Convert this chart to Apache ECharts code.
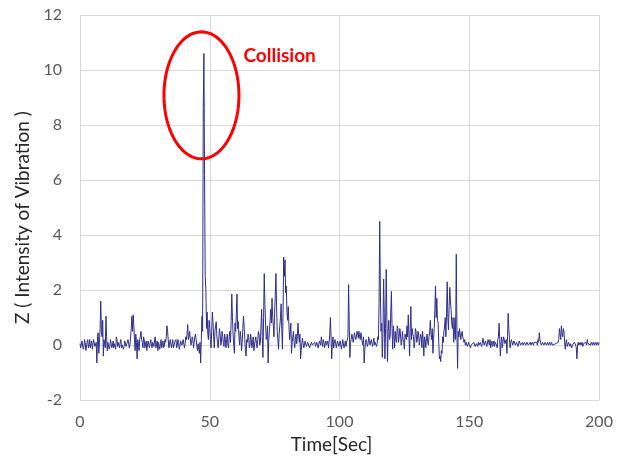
<!DOCTYPE html>
<html>
<head>
<meta charset="utf-8">
<script src="https://cdn.jsdelivr.net/npm/echarts@6/dist/echarts.min.js"></script>
<style>html,body{margin:0;padding:0;background:#fff}#c{width:625px;height:459px}</style>
</head>
<body>
<div id="c"></div>
<script>
// sampling of the vibration record
const timeStart = 0;
const timeStep = 0.5;      // main samples every 0.5 s
const midOffset = 0.25;    // intermediate samples between them
// Z values at 0, 0.5, 1.0 ... 200 s
const zValues = [
  0.05,-0.1,0.15,-0.05,0.1,-0.15,0.2,0.0,-0.1,0.15,0.05,0.25,-0.1,-0.65,0.45,0.1,1.6,0.3,-0.4,0.2,
  1.05,-0.2,0.1,-0.05,0.15,0.0,-0.1,0.1,0.3,-0.05,0.05,0.1,-0.1,0.05,-0.05,0.1,0.0,0.2,-0.1,0.3,
  1.05,1.1,0.2,0.4,-0.5,0.1,0.2,0.5,0.1,0.3,-0.1,0.15,0.0,0.2,-0.15,0.05,0.1,-0.05,0.3,0.0,
  -0.2,0.1,0.05,-0.1,0.15,0.0,0.1,0.7,0.2,-0.05,0.15,0.05,-0.1,0.1,0.2,0.0,0.1,-0.05,0.1,0.05,
  0.15,0.05,0.2,0.75,0.3,0.45,0.1,0.2,0.1,0.4,0.15,0.05,-0.3,-0.65,1.05,8.6,6.2,2.0,1.2,0.2,
  0.6,-0.1,1.2,0.3,0.5,0.85,0.1,-0.1,0.4,0.1,0.3,-0.05,0.2,0.2,0.0,0.3,0.1,1.85,0.4,-0.3,
  0.5,1.85,0.85,0.0,0.3,0.1,1.05,0.2,-0.4,0.1,0.3,0.0,0.2,0.1,-0.2,0.15,0.05,0.2,0.4,0.1,
  1.3,-0.45,2.6,0.8,0.3,-0.65,0.5,1.3,1.7,0.7,1.2,2.6,0.5,-0.15,0.7,1.5,-0.15,3.2,3.1,2.15,
  0.9,0.75,0.4,-0.3,0.3,0.1,0.2,0.05,0.8,0.1,-0.5,0.1,0.05,-0.05,0.1,0.0,0.05,-0.1,0.05,0.0,
  0.0,0.1,-0.05,0.05,0.0,0.1,0.3,-0.05,0.1,0.05,0.0,0.15,0.1,1.0,-0.5,0.3,0.05,0.1,-0.05,0.1,
  0.05,0.1,-0.1,0.15,0.0,-0.05,0.1,2.2,-0.45,0.2,0.3,0.25,0.4,0.3,0.4,0.5,0.2,0.3,0.0,-0.65,
  0.1,0.25,0.05,0.15,-0.05,0.2,0.1,0.0,0.15,0.05,0.2,4.5,0.5,-0.45,2.4,-0.5,2.75,-0.6,0.9,0.3,
  1.95,-0.15,0.4,0.5,0.1,0.6,0.3,0.4,0.1,0.2,-0.15,0.3,0.7,1.1,-0.4,1.4,0.6,0.3,0.1,0.5,
  0.2,0.4,0.0,0.3,0.5,-0.4,0.2,0.25,0.1,0.3,0.9,0.2,-0.3,0.6,2.15,1.7,0.8,-0.5,-0.6,-0.3,
  0.1,0.7,0.3,2.3,0.55,2.1,1.3,0.6,0.1,1.0,3.3,-0.85,0.3,0.65,0.4,0.3,0.1,0.0,0.05,-0.05,
  0.0,-0.1,0.05,-0.05,0.1,0.0,0.05,0.1,-0.05,0.15,0.05,0.2,0.0,0.1,-0.1,0.1,0.2,0.05,-0.05,0.15,
  0.1,0.0,0.2,0.8,-0.4,0.3,0.1,0.2,0.0,-0.3,1.15,0.2,0.1,0.25,0.05,0.1,0.0,0.15,0.05,0.1,
  0.0,0.1,0.05,0.15,0.05,0.1,0.0,0.1,0.05,0.15,0.1,0.05,0.1,0.2,0.45,0.1,0.05,0.1,0.0,0.05,
  0.05,0.0,0.1,0.05,0.0,0.05,0.0,0.1,0.05,0.2,0.4,0.7,0.3,0.5,-0.15,0.2,0.0,0.1,0.05,-0.1,
  0.05,0.1,0.0,-0.5,0.1,0.05,0.0,0.1,0.05,0.0,0.1,0.2,0.0,0.05,0.1,0.0,0.05,0.1,0.0,0.05,
  0.1
];
// Z values at 0.25, 0.75 ... 199.75 s
const zMidValues = [
  -0.1,0.15,-0.15,0.2,-0.2,0.1,-0.1,0.2,0.05,-0.15,0.2,-0.05,0.1,0.3,-0.3,0.6,0.5,0.9,0.2,-0.1,
  0.3,0.1,-0.15,0.2,-0.1,0.15,0.05,-0.15,0.2,0.1,-0.1,0.2,0.0,-0.15,0.15,-0.05,0.1,0.25,0.0,0.6,
  0.5,0.7,-0.2,0.1,0.2,-0.2,0.3,0.2,-0.1,0.2,0.05,-0.2,0.15,-0.1,0.2,-0.1,0.15,0.2,-0.1,0.15,
  0.1,-0.15,0.2,0.05,-0.1,0.2,0.3,0.5,-0.1,0.2,-0.1,0.2,0.0,0.15,-0.1,0.2,-0.15,0.15,0.0,0.2,
  -0.1,0.3,0.4,0.2,0.5,0.0,0.3,-0.1,0.3,0.2,-0.2,0.1,0.1,0.2,0.5,10.6,2.5,0.6,0.4,0.9,
  0.2,0.5,0.8,-0.1,0.7,0.3,-0.1,0.6,0.0,0.5,0.1,0.4,-0.1,0.4,-0.1,0.5,0.9,1.0,0.0,0.8,
  1.2,0.6,0.3,0.5,-0.2,0.6,0.7,-0.2,0.2,0.4,-0.1,0.4,-0.1,0.3,0.0,0.3,-0.1,0.5,0.0,0.7,
  0.3,1.0,1.5,0.2,0.7,0.2,0.9,0.8,1.0,0.3,1.8,1.4,0.2,0.4,1.0,0.6,1.2,2.5,1.9,1.2,
  1.4,0.2,0.8,0.1,0.5,-0.1,0.4,0.3,0.4,0.4,-0.2,0.25,-0.1,0.15,-0.05,0.1,0.15,0.0,0.1,-0.05,
  0.05,-0.05,0.1,-0.1,0.15,0.0,0.1,0.2,-0.1,0.15,0.05,-0.1,0.4,0.3,0.1,-0.1,0.2,-0.1,0.15,-0.05,
  0.15,-0.15,0.2,-0.1,0.15,0.1,0.3,0.8,0.1,0.4,0.1,0.45,0.2,0.5,0.25,0.3,0.45,0.1,0.3,-0.2,
  0.2,-0.05,0.3,0.0,0.2,-0.05,0.25,0.1,-0.05,0.3,1.5,2.0,0.8,0.4,1.2,0.6,1.0,0.5,0.2,1.2,
  0.6,0.7,-0.1,0.2,0.7,0.1,0.6,0.0,0.5,0.1,0.4,0.2,0.3,0.4,0.6,0.2,0.4,-0.1,0.6,0.1,
  0.5,0.0,0.4,-0.1,0.2,0.3,-0.1,0.4,0.0,0.5,0.4,0.6,0.2,1.3,1.0,0.9,0.1,-0.4,-0.2,0.3,
  0.5,1.0,1.2,1.0,1.4,1.6,0.8,1.0,0.4,0.2,0.5,0.5,0.6,0.2,0.5,0.2,0.2,0.1,-0.05,0.1,
  0.05,0.0,-0.05,0.1,-0.05,0.05,-0.05,0.0,0.1,-0.05,0.25,0.0,0.15,-0.05,0.2,0.0,-0.1,0.15,0.05,-0.05,
  0.15,-0.1,0.3,0.2,0.1,-0.1,0.3,0.05,0.2,0.3,0.6,-0.1,0.2,0.0,0.15,0.0,0.1,-0.05,0.15,0.0,
  0.05,0.0,0.1,0.0,0.1,0.0,0.05,0.0,0.1,0.0,0.05,0.15,0.0,0.1,0.2,0.0,0.1,0.0,0.1,0.0,
  0.1,0.05,0.0,0.1,0.05,0.0,0.05,0.0,0.1,0.6,0.2,0.4,0.6,0.1,0.1,-0.05,0.1,-0.05,0.1,0.0,
  0.0,0.05,-0.1,0.0,0.0,0.1,0.05,-0.05,0.1,0.05,0.0,0.05,0.1,0.0,0.05,0.1,0.0,0.05,0.1,0.0
];
const xTicks = [0, 50, 100, 150, 200];
const yTicks = [-2, 0, 2, 4, 6, 8, 10, 12];
const annotation = { label: 'Collision', centerTime: 46.8, centerZ: 9.08 };

const seriesData = [];
zValues.forEach((v, i) => {
  const t = timeStart + i * timeStep;
  seriesData.push([t, v]);
  if (i < zMidValues.length) seriesData.push([t + midOffset, zMidValues[i]]);
});

const FONT = 'Lato, "Open Sans", sans-serif';
const chart = echarts.init(document.getElementById('c'), null, { renderer: 'canvas' });
chart.setOption({
  animation: false,
  grid: { left: 80, right: 26, top: 15, bottom: 58, containLabel: false },
  xAxis: {
    type: 'value', min: xTicks[0], max: xTicks[xTicks.length - 1], interval: 50,
    name: 'Time[Sec]', nameLocation: 'middle', nameGap: 33,
    nameTextStyle: { fontFamily: FONT, fontSize: 19, color: '#262626', padding: [0, 16, 0, 0] },
    axisLine: { show: false }, axisTick: { show: false },
    axisLabel: { fontFamily: FONT, fontSize: 16, color: '#595959', margin: 14 },
    splitLine: { show: true, lineStyle: { color: '#d9d9d9', width: 1 } }
  },
  yAxis: {
    type: 'value', min: yTicks[0], max: yTicks[yTicks.length - 1], interval: 2,
    name: 'Z ( Intensity of Vibration )', nameLocation: 'middle', nameGap: 46,
    nameTextStyle: { fontFamily: FONT, fontSize: 19, color: '#262626', padding: [0, 20, 0, 0] },
    axisLine: { show: false }, axisTick: { show: false },
    axisLabel: { fontFamily: FONT, fontSize: 16, color: '#595959', margin: 18 },
    splitLine: { show: true, lineStyle: { color: '#d9d9d9', width: 1 } }
  },
  series: [{
    type: 'line', data: seriesData, showSymbol: false, symbol: 'none',
    lineStyle: { color: '#2E2E8C', width: 1 }
  }]
});

// annotation ellipse + label, anchored to data coordinates
const c = chart.convertToPixel({ gridIndex: 0 }, [annotation.centerTime, annotation.centerZ]);
const rx = 37.5, ry = 63.5;
const pts = [];
for (let k = 0; k < 120; k++) {
  const a = (k / 120) * Math.PI * 2;
  pts.push([c[0] + rx * Math.cos(a), c[1] + ry * Math.sin(a)]);
}
chart.setOption({
  graphic: [
    { type: 'polygon', shape: { points: pts }, style: { fill: 'none', stroke: '#FF0000', lineWidth: 3 }, z: 10 },
    { type: 'text', x: c[0] + 42, y: c[1] - 39,
      style: { text: annotation.label, fill: '#FF0000', font: 'bold 19px ' + FONT, textVerticalAlign: 'middle' }, z: 10 }
  ]
});
</script>
</body>
</html>
